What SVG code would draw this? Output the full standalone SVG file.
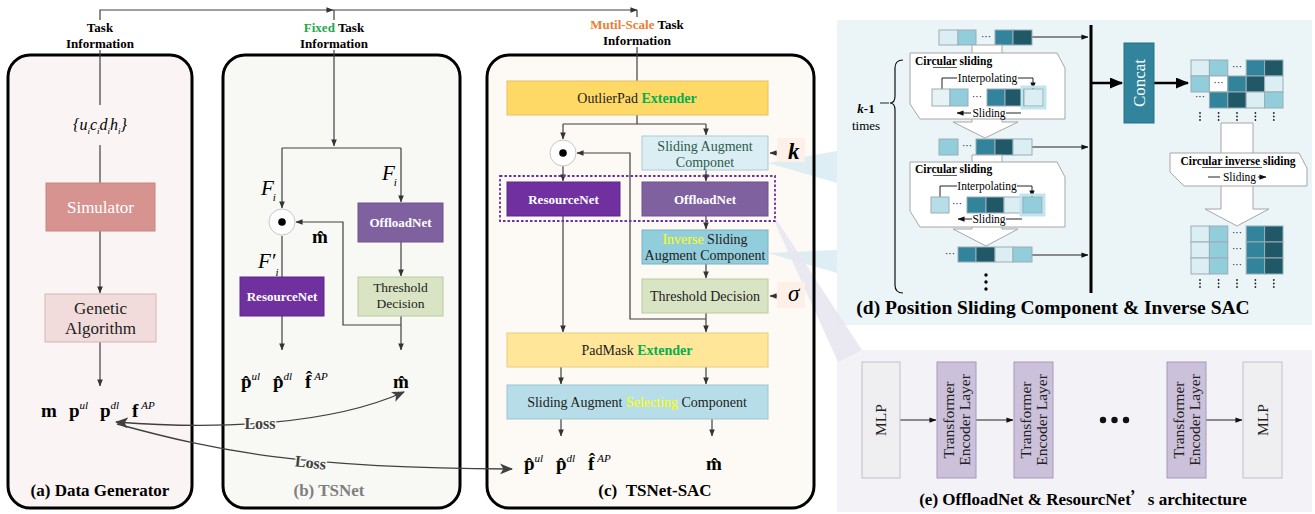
<svg xmlns="http://www.w3.org/2000/svg" width="1315" height="514" viewBox="0 0 1315 514">
<defs>
<style>
text{font-family:"Liberation Serif","Times New Roman",serif;fill:#000}
.b{font-weight:bold}
.i{font-style:italic}
.n{font-weight:normal}
.panel{stroke:#000;stroke-width:3}
.ln{fill:none;stroke:#404040;stroke-width:1.2}
.lnA{fill:none;stroke:#404040;stroke-width:1.2;marker-end:url(#ah)}
.dA{fill:none;stroke:#222;stroke-width:1;marker-end:url(#ahs)}
.dl{fill:none;stroke:#222;stroke-width:1}
.lbl{font-size:13px;font-weight:bold;text-anchor:middle}
.mid{text-anchor:middle}
.wb{fill:#fff;font-weight:bold;font-size:13px;text-anchor:middle}
.c1{fill:#DAEEF3}.c2{fill:#92CDDC}.c3{fill:#31849B}.c4{fill:#215867}.c5{fill:#B7DEE8}
.cell{stroke:#9AAEB5;stroke-width:1}
.sm{font-size:11.5px}
.sb{font-size:11.5px;font-weight:bold}
.wbox{fill:#fff;stroke:#A6A6A6;stroke-width:1}
.out{font-size:19px;font-weight:bold}
.sup{font-size:11px;font-style:italic;font-weight:normal}
.tel{fill:#CCC1DA;stroke:#A899BC;stroke-width:1}
.mlp{fill:#EFEFF2;stroke:#C0C0C8;stroke-width:1}
.rt{font-size:15.5px;text-anchor:middle;fill:#222}
</style>
<marker id="ah" viewBox="0 0 8 8" markerWidth="7" markerHeight="7" refX="7.5" refY="4" orient="auto" markerUnits="userSpaceOnUse"><path d="M0,0.8 L8,4 L0,7.2 z" fill="#333"/></marker>
<marker id="ahs" viewBox="0 0 8 8" markerWidth="7" markerHeight="7" refX="7.5" refY="4" orient="auto" markerUnits="userSpaceOnUse"><path d="M0,1 L8,4 L0,7 z" fill="#111"/></marker>
<marker id="big" viewBox="0 0 12 10" markerWidth="13" markerHeight="11" refX="11" refY="5" orient="auto-start-reverse" markerUnits="userSpaceOnUse"><path d="M0,0 L12,5 L0,10 L3,5 z" fill="#404040"/></marker>
<marker id="thick" viewBox="0 0 12 10" markerWidth="14" markerHeight="11" refX="11" refY="5" orient="auto" markerUnits="userSpaceOnUse"><path d="M0,0 L12,5 L0,10 z" fill="#000"/></marker>
</defs>

<rect width="1315" height="514" fill="#fff"/>

<!-- panel backgrounds -->
<g id="panel-a"><rect class="panel" x="8" y="55" width="184" height="453" rx="22" fill="#FAF4F4"/></g>
<g id="panel-b"><rect class="panel" x="223" y="55" width="237" height="453" rx="22" fill="#F8F8F4"/></g>
<g id="panel-c-bg"><rect x="487" y="55" width="327" height="453" rx="22" fill="#FDF9F4"/></g>
<g id="panel-d"><rect x="837" y="20" width="475" height="305" fill="#EBF4F7"/></g>
<g id="panel-e"><rect x="837" y="350" width="475" height="162" fill="#F3F2F7"/></g>
<g id="wedges">
<polygon points="768,163 837,151 837,183" fill="#D5EAF1" opacity="0.8"/>
<polygon points="768,253 837,250 837,273" fill="#D5EAF1" opacity="0.8"/>
<polygon points="776,219 776,225 838,362 862,350" fill="#E8E5F0" opacity="0.9"/>
</g>
<g id="panel-c"><rect class="panel" x="487" y="55" width="327" height="453" rx="22" fill="none"/></g>

<!-- top labels -->
<g id="label-a"><text class="lbl" x="100" y="32">Task</text><text class="lbl" x="100" y="48">Information</text></g>
<g id="label-b"><text class="lbl" x="334" y="32"><tspan fill="#1EA84E">Fixed</tspan> Task</text><text class="lbl" x="334" y="48">Information</text></g>
<g id="label-c"><text class="lbl" x="637" y="29"><tspan fill="#ED7D31">Mutil-Scale</tspan> Task</text><text class="lbl" x="637" y="45">Information</text></g>

<!-- connectors -->
<g id="connectors">
<path class="ln" d="M100,20 V10 H333" marker-end="url(#ah)"/>
<path class="ln" d="M333,10 H637" marker-end="url(#ah)"/>
<path class="ln" d="M334,10 V20 M637,10 V17"/>
<!-- (a) -->
<path class="ln" d="M100,50 V105 M100,145 V183"/>
<path class="lnA" d="M100,231 V293"/>
<path class="lnA" d="M100,342 V386"/>
<!-- (b) -->
<path class="lnA" d="M334,50 V146"/>
<path class="ln" d="M282,148 H401"/>
<path class="lnA" d="M282,148 V208"/>
<path class="lnA" d="M401,148 V202"/>
<path class="lnA" d="M401,242 V276"/>
<path class="lnA" d="M401,316 V350"/>
<path class="lnA" d="M401,325 H343 V222 H296"/>
<path class="ln" d="M282,236 V277"/>
<path class="lnA" d="M282,316 V350"/>
<!-- (c) -->
<path class="ln" d="M637,47 V81"/>
<path class="ln" d="M637,115 V124 M563,124 H706"/>
<path class="lnA" d="M563,124 V139"/>
<path class="lnA" d="M706,124 V135"/>
<path class="lnA" d="M706,170 V181"/>
<path class="lnA" d="M563,166 V181"/>
<path class="lnA" d="M706,216 V229"/>
<path class="lnA" d="M706,264 V278"/>
<path class="lnA" d="M706,313 V332"/>
<path class="lnA" d="M706,319 H630 V153 H577"/>
<path class="lnA" d="M563,216 V332"/>
<path class="lnA" d="M561,367 V384"/>
<path class="lnA" d="M706,367 V384"/>
<path class="lnA" d="M561,419 V436"/>
<path class="lnA" d="M712,419 V436"/>
<path class="lnA" d="M786,153 H770"/>
<path class="lnA" d="M786,296 H770"/>
<!-- loss curves -->
<path fill="none" stroke="#404040" stroke-width="1.3" d="M116,422 C220,430 330,425 404,392" marker-start="url(#big)" marker-end="url(#big)"/>
<path fill="none" stroke="#404040" stroke-width="1.3" d="M117,424 C220,452 300,468 512,469" marker-end="url(#big)"/>
<!-- (d) row arrows -->
<path class="dA" d="M1032,37 H1088"/>
<path class="dA" d="M1032,147 H1088"/>
<path class="dA" d="M1032,255 H1088"/>
<path fill="none" stroke="#000" stroke-width="3" d="M1091,25 V293"/>
<path fill="none" stroke="#000" stroke-width="2.5" d="M1091,83 H1122" marker-end="url(#thick)"/>
<path fill="none" stroke="#000" stroke-width="2.5" d="M1154,83 H1188" marker-end="url(#thick)"/>
<!-- (e) arrows -->
<path class="dA" d="M900,420 H936"/>
<path class="dA" d="M976,420 H1013"/>
<path class="dA" d="M1206,420 H1242"/>
</g>

<!-- Loss labels -->
<text class="b" x="260" y="429" font-size="16" text-anchor="middle" stroke="#F8F8F4" stroke-width="3" paint-order="stroke" style="fill:#404040">Loss</text>
<text class="b" x="0" y="0" font-size="16" text-anchor="middle" stroke="#F8F8F4" stroke-width="3" paint-order="stroke" style="fill:#404040" transform="translate(310,468) rotate(6)">Loss</text>

<!-- (a) nodes -->
<g id="task-set"><text x="100" y="130" font-size="16" class="i mid">{u<tspan font-size="9" dy="4">i</tspan><tspan dy="-4">c</tspan><tspan font-size="9" dy="4">i</tspan><tspan dy="-4">d</tspan><tspan font-size="9" dy="4">i</tspan><tspan dy="-4">h</tspan><tspan font-size="9" dy="4">i</tspan><tspan dy="-4">}</tspan></text></g>
<g id="simulator"><rect x="46" y="183" width="109" height="48" fill="#D79390" stroke="#C98481"/><text x="100.5" y="213" font-size="17" class="mid" style="fill:#fff">Simulator</text></g>
<g id="genetic"><rect x="45" y="294" width="111" height="48" fill="#F1DCDB" stroke="#D4B5B3"/><text x="100.5" y="314" font-size="17" class="mid" style="fill:#222">Genetic</text><text x="100.5" y="334" font-size="17" class="mid" style="fill:#222">Algorithm</text></g>
<g id="gt-outputs">
<text class="out" x="41" y="417">m</text>
<text x="69" y="417"><tspan class="out">p</tspan><tspan class="sup" dy="-8">ul</tspan></text>
<text x="100" y="417"><tspan class="out">p</tspan><tspan class="sup" dy="-8">dl</tspan></text>
<text x="132" y="417"><tspan class="out">f</tspan><tspan class="sup" font-size="12" dx="3" dy="-8">AP</tspan></text>
</g>
<g id="title-a"><text class="b mid" x="100" y="496" font-size="17">(a) Data Generator</text></g>

<!-- (b) nodes -->
<g id="hadamard-b"><circle cx="282" cy="222" r="13" fill="#fff" stroke="#C8C8C8"/><circle cx="282" cy="222" r="3.8" fill="#000"/></g>
<g id="fi-b">
<text x="261" y="195" font-size="21" class="i">F<tspan font-size="11" dx="-1" dy="6">i</tspan></text>
<text x="382" y="180" font-size="21" class="i">F<tspan font-size="11" dx="-1" dy="6">i</tspan></text>
<text x="258" y="268" font-size="21" class="i">F′<tspan font-size="11" dy="8">i</tspan></text>
<text class="out" x="312" y="243">m&#x302;</text></g>
<g id="offloadnet-b"><rect x="358" y="203" width="85" height="39" fill="#80619F" stroke="#6E528A"/><text class="wb" x="400.5" y="227" style="fill:#fff">OffloadNet</text></g>
<g id="threshold-b"><rect x="358" y="277" width="85" height="39" fill="#D9E4C4" stroke="#BACB9C"/><text x="400.5" y="292" font-size="13.5" class="mid" style="fill:#222">Threshold</text><text x="400.5" y="308" font-size="13.5" class="mid" style="fill:#222">Decision</text></g>
<g id="resourcenet-b"><rect x="240" y="277" width="84" height="39" fill="#7030A0" stroke="#5E2887"/><text class="wb" x="282" y="301" style="fill:#fff">ResourceNet</text></g>
<g id="outputs-b">
<text x="241" y="388"><tspan class="out">p&#x302;</tspan><tspan class="sup" dy="-8">ul</tspan></text>
<text x="273" y="388"><tspan class="out">p&#x302;</tspan><tspan class="sup" dy="-8">dl</tspan></text>
<text x="305" y="388"><tspan class="out">f&#x302;</tspan><tspan class="sup" font-size="12" dx="3" dy="-8">AP</tspan></text>
<text class="out" x="393" y="388">m&#x302;</text>
</g>
<g id="title-b"><text class="b mid" x="329" y="496" font-size="17" style="fill:#7F7F7F">(b) TSNet</text></g>

<!-- (c) nodes -->
<g id="outlierpad"><rect x="507" y="81" width="261" height="34" fill="#FFD966" stroke="#E2C268"/><text x="637" y="103" font-size="14" class="mid" style="fill:#222">OutlierPad <tspan class="b" style="fill:#00B050">Extender</tspan></text></g>
<g id="hadamard-c"><circle cx="563" cy="153" r="13" fill="#fff" stroke="#C8C8C8"/><circle cx="563" cy="153" r="3.8" fill="#000"/></g>
<g id="sac"><rect x="642" y="136" width="126" height="34" fill="#DAEEF3" stroke="#A9CBD6"/><text x="705" y="151" font-size="14" class="mid" style="fill:#2E5B4B">Sliding Augment</text><text x="705" y="167" font-size="14" class="mid" style="fill:#2E5B4B">Componet</text></g>
<g id="k-input"><rect x="777" y="138" width="28" height="24" fill="#FCF0E9"/><text x="788" y="159" font-size="23" class="b i">k</text></g>
<g id="dash-group"><rect x="500" y="176" width="275" height="45" fill="none" stroke="#7030A0" stroke-width="1.8" stroke-dasharray="2.5,2"/></g>
<g id="resourcenet-c"><rect x="507" y="182" width="113" height="34" fill="#7030A0" stroke="#5E2887"/><text class="wb" x="563.5" y="204" style="fill:#fff">ResourceNet</text></g>
<g id="offloadnet-c"><rect x="642" y="182" width="126" height="34" fill="#80619F" stroke="#6E528A"/><text class="wb" x="705" y="204" style="fill:#fff">OffloadNet</text></g>
<g id="inverse-sac"><rect x="642" y="230" width="126" height="34" fill="#92CDDC" stroke="#7BB2C2"/><text x="705" y="244" font-size="14" class="mid" style="fill:#222"><tspan style="fill:#FFFF00">Inverse</tspan> Sliding</text><text x="705" y="260" font-size="14" class="mid" style="fill:#222">Augment Component</text></g>
<g id="threshold-c"><rect x="642" y="279" width="126" height="34" fill="#D9E4C4" stroke="#BACB9C"/><text x="705" y="301" font-size="14" class="mid" style="fill:#222">Threshold Decision</text></g>
<g id="sigma-input"><rect x="777" y="282" width="28" height="26" fill="#FCF0E9"/><text x="788" y="301" font-size="23" class="i">σ</text></g>
<g id="padmask"><rect x="507" y="333" width="261" height="34" fill="#FFE699" stroke="#E5CC80"/><text x="637" y="355" font-size="14" class="mid" style="fill:#222">PadMask <tspan class="b" style="fill:#00B050">Extender</tspan></text></g>
<g id="sasc"><rect x="507" y="385" width="261" height="34" fill="#B7DEE8" stroke="#9CC5D0"/><text x="637" y="407" font-size="14" class="mid" style="fill:#222">Sliding Augment <tspan style="fill:#FFFF00">Selecting</tspan> Component</text></g>
<g id="outputs-c">
<text x="524" y="470"><tspan class="out">p&#x302;</tspan><tspan class="sup" dy="-8">ul</tspan></text>
<text x="556" y="470"><tspan class="out">p&#x302;</tspan><tspan class="sup" dy="-8">dl</tspan></text>
<text x="588" y="470"><tspan class="out">f&#x302;</tspan><tspan class="sup" font-size="12" dx="3" dy="-8">AP</tspan></text>
<text class="out" x="706" y="470">m&#x302;</text>
</g>
<g id="title-c"><text class="b mid" x="655" y="496" font-size="17">(c) &#160;TSNet-SAC</text></g>

<!-- (d) -->
<g id="row1">
<rect class="cell c1" x="939" y="30" width="19" height="15"/><rect class="cell c2" x="958" y="30" width="18" height="15"/>
<text x="986" y="40" font-size="10" class="mid">···</text>
<rect class="cell c3" x="995" y="30" width="18" height="15"/><rect class="cell c4" x="1013" y="30" width="19" height="15"/>
</g>
<g id="sliding-box-1">
<polygon class="wbox" points="972,45 1002,45 1002,122 1018,122 985,138 953,122 972,122"/>
<polygon class="wbox" points="910,53 1057,53 1065,68 1065,119 920,119 910,104"/>
<text class="sb" x="915" y="65">Circular sliding</text>
<line x1="933" y1="67.5" x2="957" y2="67.5" stroke="#333" stroke-width="0.8"/>
<text class="sm mid" x="987.5" y="82">Interpolating</text>
<path class="dl" d="M942,89 V78 H957"/>
<path class="dA" d="M1018,78 H1033 V89"/>
<rect class="cell" x="932" y="89" width="18" height="17" fill="#E6F2F5"/><rect class="cell c2" x="950" y="89" width="18" height="17"/>
<text x="977" y="100" font-size="10" class="mid">···</text>
<rect class="cell c3" x="987" y="89" width="18" height="17"/><rect class="cell c4" x="1005" y="89" width="19" height="17"/>
<rect x="1022" y="87" width="23" height="21" fill="none" stroke="#BFE6F0" stroke-width="3"/>
<rect class="cell c1" x="1024" y="89" width="19" height="17"/>
<path class="dA" d="M971,113 H957"/>
<text class="sm mid" x="989" y="117">Sliding</text>
<path class="dl" d="M1006,113 H1021"/>
</g>
<g id="row2">
<rect class="cell c2" x="939" y="139" width="19" height="16"/>
<text x="967" y="149" font-size="10" class="mid">···</text>
<rect class="cell c3" x="976" y="139" width="19" height="16"/><rect class="cell c4" x="995" y="139" width="18" height="16"/><rect class="cell c1" x="1013" y="139" width="19" height="16"/>
</g>
<g id="sliding-box-2">
<polygon class="wbox" points="972,155 1002,155 1002,229 1018,229 986,246 953,229 972,229"/>
<polygon class="wbox" points="910,162 1057,162 1065,177 1065,227 920,227 910,211"/>
<text class="sb" x="915" y="173">Circular sliding</text>
<line x1="933" y1="175.5" x2="957" y2="175.5" stroke="#333" stroke-width="0.8"/>
<text class="sm mid" x="987" y="190">Interpolating</text>
<path class="dl" d="M940,197 V186 H957"/>
<path class="dA" d="M1017,186 H1032 V197"/>
<rect class="cell c5" x="931" y="197" width="18" height="16"/>
<text x="957" y="207" font-size="10" class="mid">···</text>
<rect class="cell c3" x="967" y="197" width="19" height="16"/><rect class="cell c4" x="986" y="197" width="18" height="16"/><rect class="cell c1" x="1004" y="197" width="19" height="16"/>
<rect x="1021" y="195" width="23" height="20" fill="none" stroke="#BFE6F0" stroke-width="3"/>
<rect class="cell c2" x="1023" y="197" width="19" height="16"/>
<path class="dA" d="M972,219 H958"/>
<text class="sm mid" x="989" y="223">Sliding</text>
<path class="dl" d="M1006,219 H1022"/>
</g>
<g id="row3">
<text x="950" y="257" font-size="10" class="mid">···</text>
<rect class="cell c3" x="958" y="247" width="18" height="15"/><rect class="cell c4" x="976" y="247" width="19" height="15"/><rect class="cell c1" x="995" y="247" width="18" height="15"/><rect class="cell c2" x="1013" y="247" width="19" height="15"/>
<circle cx="986" cy="275" r="1.7"/><circle cx="986" cy="282" r="1.7"/><circle cx="986" cy="289" r="1.7"/>
</g>
<g id="brace">
<path fill="none" stroke="#111" stroke-width="1.2" d="M903,60 Q895,60 895,68 L895,96 Q895,103 890,103 Q895,103 895,110 L895,285 Q895,293 903,293"/>
<path class="dl" d="M880,103 H889"/>
<text x="866" y="113" font-size="13" class="b mid"><tspan class="i">k</tspan>-1</text>
<text x="866" y="130" font-size="13" class="mid">times</text>
</g>
<g id="concat"><rect x="1124" y="43" width="30" height="80" fill="#31849B" stroke="#2A7085"/><text x="0" y="0" font-size="17" class="mid" style="fill:#fff" transform="translate(1145,83) rotate(-90)">Concat</text></g>
<g id="matrix-1">
<rect class="cell c1" x="1191" y="60" width="18.4" height="16"/><rect class="cell c2" x="1209.4" y="60" width="18.4" height="16"/><text x="1237" y="70" font-size="10" class="mid">···</text><rect class="cell c3" x="1246.2" y="60" width="18.4" height="16"/><rect class="cell c4" x="1264.6" y="60" width="18.4" height="16"/>
<rect class="cell c2" x="1191" y="76" width="18.4" height="16"/><rect class="cell" fill="#fff" x="1209.4" y="76" width="18.4" height="16"/><text x="1218.6" y="86" font-size="10" class="mid">···</text><rect class="cell c3" x="1227.8" y="76" width="18.4" height="16"/><rect class="cell c4" x="1246.2" y="76" width="18.4" height="16"/><rect class="cell c1" x="1264.6" y="76" width="18.4" height="16"/>
<text x="1200" y="100" font-size="10" class="mid">···</text><rect class="cell c3" x="1209.4" y="92" width="18.4" height="16"/><rect class="cell c4" x="1227.8" y="92" width="18.4" height="16"/><rect class="cell c1" x="1246.2" y="92" width="18.4" height="16"/><rect class="cell c2" x="1264.6" y="92" width="18.4" height="16"/>
<g fill="#222"><circle cx="1200" cy="113" r="0.9"/><circle cx="1200" cy="116.5" r="0.9"/><circle cx="1200" cy="120" r="0.9"/>
<circle cx="1218.6" cy="113" r="0.9"/><circle cx="1218.6" cy="116.5" r="0.9"/><circle cx="1218.6" cy="120" r="0.9"/>
<circle cx="1237" cy="113" r="0.9"/><circle cx="1237" cy="116.5" r="0.9"/><circle cx="1237" cy="120" r="0.9"/>
<circle cx="1255.4" cy="113" r="0.9"/><circle cx="1255.4" cy="116.5" r="0.9"/><circle cx="1255.4" cy="120" r="0.9"/>
<circle cx="1273.8" cy="113" r="0.9"/><circle cx="1273.8" cy="116.5" r="0.9"/><circle cx="1273.8" cy="120" r="0.9"/></g>
</g>
<g id="inverse-sliding">
<polygon class="wbox" points="1221,123 1253,123 1253,209 1269,209 1237,226 1205,209 1221,209"/>
<polygon class="wbox" points="1170,153 1299,153 1307,168 1307,186 1184,186 1170,172"/>
<text class="sb mid" x="1238" y="165">Circular inverse sliding</text>
<line x1="1202" y1="167.5" x2="1262" y2="167.5" stroke="#333" stroke-width="0.8"/>
<path class="dl" d="M1208,177 H1220"/>
<text class="sm mid" x="1239.5" y="181">Sliding</text>
<path class="dA" d="M1258,177 H1266"/>
</g>
<g id="matrix-2">
<rect class="cell c1" x="1191" y="226" width="18.4" height="16"/><rect class="cell c2" x="1209.4" y="226" width="18.4" height="16"/><text x="1237" y="236" font-size="10" class="mid">···</text><rect class="cell c3" x="1246.2" y="226" width="18.4" height="16"/><rect class="cell c4" x="1264.6" y="226" width="18.4" height="16"/>
<rect class="cell c1" x="1191" y="242" width="18.4" height="16"/><rect class="cell c2" x="1209.4" y="242" width="18.4" height="16"/><text x="1237" y="252" font-size="10" class="mid">···</text><rect class="cell c3" x="1246.2" y="242" width="18.4" height="16"/><rect class="cell c4" x="1264.6" y="242" width="18.4" height="16"/>
<rect class="cell c1" x="1191" y="258" width="18.4" height="16"/><rect class="cell c2" x="1209.4" y="258" width="18.4" height="16"/><text x="1237" y="268" font-size="10" class="mid">···</text><rect class="cell c3" x="1246.2" y="258" width="18.4" height="16"/><rect class="cell c4" x="1264.6" y="258" width="18.4" height="16"/>
<g fill="#222"><circle cx="1200" cy="280" r="0.9"/><circle cx="1200" cy="283.5" r="0.9"/><circle cx="1200" cy="287" r="0.9"/>
<circle cx="1218.6" cy="280" r="0.9"/><circle cx="1218.6" cy="283.5" r="0.9"/><circle cx="1218.6" cy="287" r="0.9"/>
<circle cx="1237" cy="280" r="0.9"/><circle cx="1237" cy="283.5" r="0.9"/><circle cx="1237" cy="287" r="0.9"/>
<circle cx="1255.4" cy="280" r="0.9"/><circle cx="1255.4" cy="283.5" r="0.9"/><circle cx="1255.4" cy="287" r="0.9"/>
<circle cx="1273.8" cy="280" r="0.9"/><circle cx="1273.8" cy="283.5" r="0.9"/><circle cx="1273.8" cy="287" r="0.9"/></g>
</g>
<g id="title-d"><text class="b mid" x="1053" y="314" font-size="19.5">(d) Position Sliding Component &amp; Inverse SAC</text></g>

<!-- (e) -->
<g id="mlp-1"><rect class="mlp" x="862" y="362" width="38" height="116"/><text class="rt" x="0" y="0" transform="translate(886,420) rotate(-90)">MLP</text></g>
<g id="tel-1"><rect class="tel" x="937" y="362" width="39" height="116"/><g transform="translate(956.5,420) rotate(-90)"><text class="rt" x="0" y="-3">Transformer</text><text class="rt" x="0" y="13">Encoder Layer</text></g></g>
<g id="tel-2"><rect class="tel" x="1014" y="362" width="39" height="116"/><g transform="translate(1033.5,420) rotate(-90)"><text class="rt" x="0" y="-3">Transformer</text><text class="rt" x="0" y="13">Encoder Layer</text></g></g>
<g id="ellipsis-e"><circle cx="1103" cy="420" r="3.2" fill="#111"/><circle cx="1114.5" cy="420" r="3.2" fill="#111"/><circle cx="1126" cy="420" r="3.2" fill="#111"/></g>
<g id="tel-3"><rect class="tel" x="1167" y="362" width="39" height="116"/><g transform="translate(1186.5,420) rotate(-90)"><text class="rt" x="0" y="-3">Transformer</text><text class="rt" x="0" y="13">Encoder Layer</text></g></g>
<g id="mlp-2"><rect class="mlp" x="1243" y="362" width="39" height="116"/><text class="rt" x="0" y="0" transform="translate(1267.5,420) rotate(-90)">MLP</text></g>
<g id="title-e"><text class="b mid" x="1083" y="505" font-size="17">(e) OffloadNet &amp; ResourcNet<tspan style="font-family:'Noto Sans CJK SC',sans-serif">’</tspan>s architecture</text></g>
</svg>
